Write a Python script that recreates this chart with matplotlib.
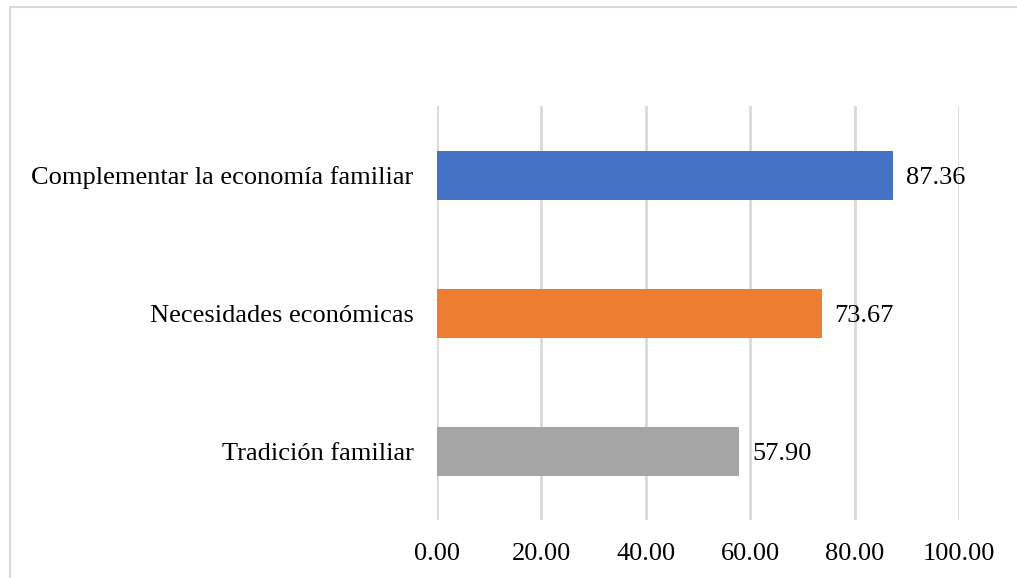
import matplotlib.pyplot as plt
from matplotlib.patches import Rectangle

# Data
categorias = ["Tradición familiar", "Necesidades económicas", "Complementar la economía familiar"]
valores = [57.90, 73.67, 87.36]
colores = ["#A5A5A5", "#ED7D31", "#4472C4"]
ticks_x = [0, 20, 40, 60, 80, 100]

plt.rcParams['font.family'] = ['Liberation Serif', 'DejaVu Serif']

fig = plt.figure(figsize=(10.17, 5.78), dpi=100)
ax = fig.add_axes([0.4297, 0.1003, 0.5133, 0.7163])

pos = list(range(len(categorias)))
ax.barh(pos, valores, height=0.355, color=colores, zorder=3)

for y, v in zip(pos, valores):
    ax.annotate(f"{v:.2f}", xy=(v, y), xytext=(13, -3), textcoords="offset pixels",
                ha="left", va="center", fontsize=19, color="#000000")

ax.set_xlim(0, 100)
ax.set_ylim(-0.5, len(categorias) - 0.5)
ax.set_xticks(ticks_x)
ax.set_xticklabels([f"{t:.2f}" for t in ticks_x], fontsize=19)
ax.set_yticks(pos)
ax.set_yticklabels(categorias, fontsize=19)
ax.tick_params(axis="both", length=0)
ax.tick_params(axis="y", pad=17)
ax.tick_params(axis="x", pad=16.5)

ax.grid(axis="x", color="#D9D9D9", linewidth=2, zorder=0)
for s in ax.spines.values():
    s.set_visible(False)

# Light frame around the chart area
fig.patches.append(Rectangle((10 / 1017, -0.05), 1.1, 1 - 7 / 578 + 0.05,
                             transform=fig.transFigure, fill=False,
                             edgecolor="#D9D9D9", linewidth=1.5))

fig.savefig("out.png", dpi=100)
